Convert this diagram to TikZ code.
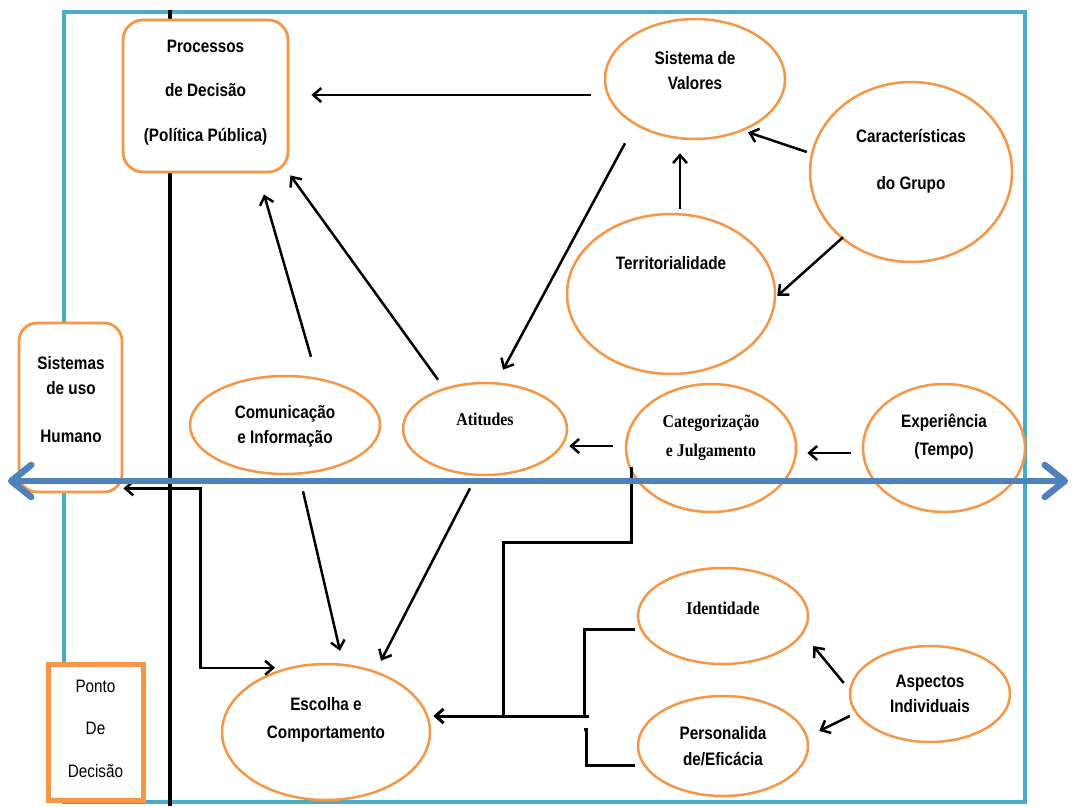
\documentclass[tikz,border=0pt]{standalone}
\usepackage{fontspec}
\setmainfont{Liberation Sans}
\newfontfamily\lbl{Liberation Sans}[FakeStretch=0.85]
\newfontfamily\lblserif{Liberation Serif}[FakeStretch=0.88]
\usetikzlibrary{shapes.geometric,arrows.meta}

\definecolor{orng}{HTML}{F79646}
\definecolor{tealframe}{HTML}{4BACC6}
\definecolor{blu}{HTML}{4F81BD}

\tikzset{
  frame/.style={draw=tealframe, line width=3.5pt},
  obox/.style={draw=orng, line width=2.8pt, fill=white, rounded corners=20pt, inner sep=0pt},
  sqbox/.style={draw=orng, line width=5pt, fill=white, inner sep=0pt},
  oel/.style={ellipse, draw=orng, line width=2.5pt, fill=white, inner sep=0pt},
  txt/.style={font={\lbl\bfseries\fontsize{18}{25}\selectfont}, align=center, inner sep=0pt},
  txtserif/.style={font={\lblserif\bfseries\fontsize{18}{29}\selectfont}, align=center, inner sep=0pt},
  txtreg/.style={font={\lbl\fontsize{18}{25}\selectfont}, align=center, inner sep=0pt},
  arr/.style={line width=2.5pt, -{Straight Barb[length=8pt,width=14pt]}},
  dblarr/.style={line width=2.5pt, {Straight Barb[length=8pt,width=14pt]}-{Straight Barb[length=8pt,width=14pt]}},
  brk/.style={line width=3pt},
  timeline/.style={draw=blu, line width=6.5pt,
    {Straight Barb[length=20pt,width=32pt,round]}-{Straight Barb[length=20pt,width=32pt,round]}},
}

\begin{document}
\begin{tikzpicture}[x=1pt,y=-1pt]
\useasboundingbox (0,0) rectangle (1075,806);

% outer frame and the decision-point divider
\draw[frame] (64,12) rectangle (1025,802);
\coordinate (vt) at (170,10);
\coordinate (vb) at (170,806);
\draw[line width=4.5pt] (vt) -- (vb);

% boxes
\node[obox, minimum width=165pt, minimum height=152pt] (PD) at (205.5,96) {};
\node[txt] (tPD) at (205.5,92.5) {Processos\\[19.5pt]de Decisão\\[19.5pt](Política Pública)};

\node[obox, rounded corners=18pt, minimum width=103pt, minimum height=169pt] (SH) at (70.5,407.5) {};
\node[txt] (tSH) at (71,400) {Sistemas\\de uso\\[23pt]Humano};

\node[sqbox, minimum width=95pt, minimum height=136pt] (PDD) at (95.5,732) {};
\node[txtreg] (tPDD) at (95.5,728.5) {Ponto\\[17.5pt]De\\[17.5pt]Decisão};

% ellipses
\node[oel, minimum width=180pt, minimum height=120pt] (SV) at (695,79) {};
\node[txt] (tSV) at (695,70.5) {Sistema de\\Valores};

\node[oel, minimum width=202pt, minimum height=180pt] (CG) at (911,172) {};
\node[txt] (tCG) at (911,161.5) {Características\\[22pt]do Grupo};

\node[oel, minimum width=208pt, minimum height=160pt] (TE) at (671,294) {};
\node[txt] (tTE) at (671,263) {Territorialidade};

\node[oel, minimum width=190pt, minimum height=98pt] (CI) at (285,425) {};
\node[txt] (tCI) at (285,426.5) {Comunicação\\e Informação};

\node[oel, minimum width=164pt, minimum height=92pt] (AT) at (485,429) {};
\node[txtserif] (tAT) at (485,419) {Atitudes};

\node[oel, minimum width=170pt, minimum height=128pt] (CJ) at (711,448) {};
\node[txtserif] (tCJ) at (711,437.5) {Categorização\\e Julgamento};

\node[oel, minimum width=162pt, minimum height=128pt] (EX) at (944,448) {};
\node[txt] (tEX) at (944,437) {Experiência\\[3pt](Tempo)};

\node[oel, minimum width=208pt, minimum height=136pt] (EC) at (326,732) {};
\node[txt] (tEC) at (326,720) {Escolha e\\[3pt]Comportamento};

\node[oel, minimum width=170pt, minimum height=96pt] (ID) at (723,616) {};
\node[txtserif] (tID) at (723,608) {Identidade};

\node[oel, minimum width=160pt, minimum height=96pt] (AI) at (930,694) {};
\node[txt] (tAI) at (930,693.5) {Aspectos\\Individuais};

\node[oel, minimum width=170pt, minimum height=100pt] (PE) at (723,746) {};
\node[txt] (tPE) at (723,746) {Personalida\\[1pt]de/Eficácia};

% influence arrows
\draw[arr] ([shift={(-13,16)}]SV.west) -- ([shift={(22,-1)}]PD.east);
\draw[arr] ([shift={(9,-4)}]TE.north) -- ([shift={(-15,13)}]SV.south);
\draw[arr] ([shift={(-2,-20)}]CG.west) -- ([shift={(53,-8)}]SV.south);
\draw[arr] ([shift={(-68,-26)}]CG.south) -- ([shift={(1,2)}]TE.east);
\draw[arr] ([shift={(-70,3)}]SV.south) -- ([shift={(18,-12)}]AT.north);
\draw[arr] ([shift={(-47,-2)}]AT.north) -- ([shift={(1,2)}]PD.south east);
\draw[arr] ([shift={(26,-18)}]CI.north) -- ([shift={(58.5,21)}]PD.south);
\draw[arr] ([shift={(-12,-2)}]CJ.west) -- ([shift={(1,17)}]AT.east);
\draw[arr] ([shift={(-11,5)}]EX.west) -- ([shift={(10,5)}]CJ.east);
\draw[arr] ([shift={(18,16)}]CI.south) -- ([shift={(14,-12)}]EC.north);
\draw[arr] ([shift={(-15,12)}]AT.south) -- ([shift={(55,-2)}]EC.north);
\draw[dblarr] ([shift={(0,-5)}]SH.south east) -- ++(77,0) |- ([shift={(-51,5)}]EC.north);

% brackets feeding the choice
\draw[brk] ([shift={(-80,-46)}]CJ.south) -- ++(0,75) -- ++(-128,0) -- ++(0,175);
\draw[brk] ([shift={(-2,13)}]ID.west) -- ++(-50,0) -- ++(0,87);
\draw[brk] ([shift={(-2,19)}]PE.west) -- ++(-48,0) -- ++(0,-36) -- ++(-3,0);
\draw[arr, line width=3pt] ([shift={(-48,-30)}]PE.west) -- ([shift={(2,-16)}]EC.east);

\draw[arr] ([shift={(-5,-11)}]AI.west) -- ([shift={(4,30)}]ID.east);
\draw[arr] ([shift={(1,22)}]AI.west) -- ([shift={(10,-15)}]PE.east);

% time line
\coordinate (bl) at (8,481);
\coordinate (br) at (1068,481);
\draw[timeline] (bl) -- (br);
\end{tikzpicture}
\end{document}
